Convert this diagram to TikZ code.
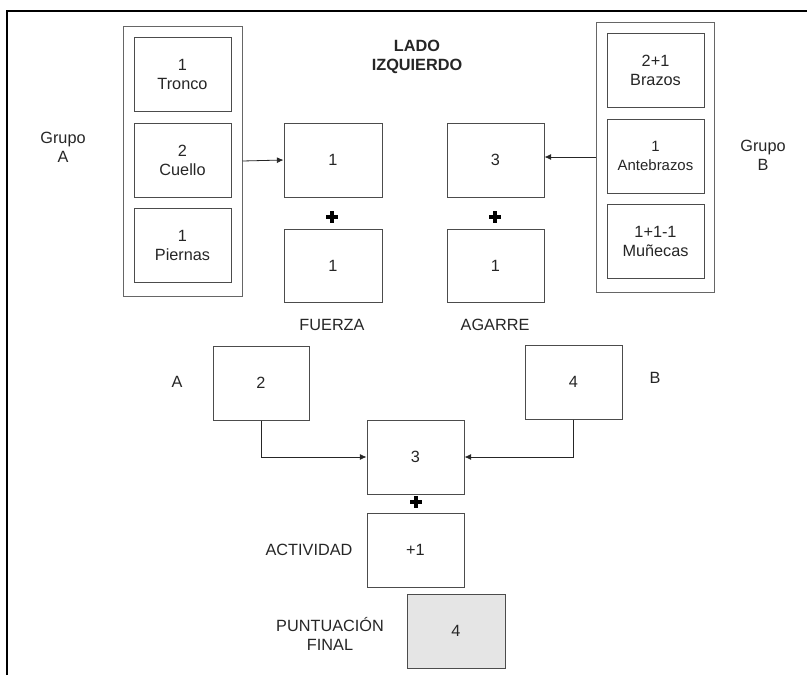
\documentclass[tikz,border=0pt]{standalone}
\usepackage{fontspec}
\setmainfont{Liberation Sans}
\usetikzlibrary{arrows.meta}
\begin{document}
\begin{tikzpicture}[x=0.75pt,y=-0.75pt,
  font=\fontsize{12.2}{14.25}\selectfont,
  box/.style={draw=black!70,line width=0.75pt,fill=white,inner sep=0pt,
    minimum width=97*0.75pt,minimum height=74*0.75pt,align=center,text=black!85},
  group/.style={draw=black!60,line width=0.75pt,inner sep=0pt,
    minimum width=119*0.75pt,minimum height=270*0.75pt},
  lbl/.style={align=center,text=black!85,inner sep=0pt},
  conn/.style={draw=black!85,line width=0.6pt,-{Latex[length=5pt,width=4.5pt]}},
  plussign/.style={line width=3pt,black}
]
\useasboundingbox (0,0) rectangle (807,675);
% outer frame
\draw[line width=1.5pt] (7,675) -- (7,10.5) -- (807,10.5);

% title
\node[lbl,font=\fontsize{12.2}{14.25}\selectfont\bfseries] (title) at (417,56.5) {LADO\\IZQUIERDO};

% group A
\node[group] (gA) at (182.5,161) {};
\node[box] (tronco) at (182.5,74) {1\\Tronco};
\node[box] (cuello) at (182.5,160) {2\\Cuello};
\node[box] (piernas) at (182.5,245) {1\\Piernas};
\node[lbl] (lgA) at (63,147.5) {Grupo\\A};

% group B
\node[group,minimum width=118*0.75pt] (gB) at (655,157) {};
\node[box] (brazos) at (655.5,70) {2+1\\Brazos};
\node[box,font=\fontsize{11.2}{14.25}\selectfont] (antebrazos) at (655.5,156) {1\\Antebrazos};
\node[box] (munecas) at (655.5,241) {1+1-1\\Muñecas};
\node[lbl] (lgB) at (763,155) {Grupo\\B};

% fuerza / agarre
\node[box,minimum width=98*0.75pt] (f1) at (333,160) {1};
\node[box,minimum width=98*0.75pt,minimum height=73*0.75pt] (f2) at (333,265.5) {1};
\node[box] (g1) at (495.5,160) {3};
\node[box,minimum height=73*0.75pt] (g2) at (495.5,265.5) {1};
\node[lbl] (lf) at (332,325) {FUERZA};
\node[lbl] (lg) at (495,325) {AGARRE};

\draw[plussign] (326,217) -- (338,217) (332,211) -- (332,223);
\draw[plussign] (489,217) -- (501,217) (495,211) -- (495,223);

% arrows from groups
\draw[conn] (gA.east) -- (f1.west);
\draw[conn] (gB.west) -- (gB.west -| g1.east);

% second level
\node[box,minimum width=96*0.75pt] (b2) at (261,383) {2};
\node[box] (b4) at (573.5,382) {4};
\node[box] (b3) at (415.5,457) {3};
\node[lbl] (la) at (177,382) {A};
\node[lbl] (lb) at (655,378) {B};
\draw[conn] (b2.south) |- (b3.west);
\draw[conn] (b4.south) |- (b3.east);

\draw[plussign] (410,502) -- (422,502) (416,496) -- (416,508);

% activity
\node[box] (act) at (415.5,550) {+1};
\node[lbl] (lact) at (309,550) {ACTIVIDAD};

% final
\node[box,fill=black!10,minimum width=98*0.75pt] (final) at (456,631) {4};
\node[lbl] (lfinal) at (330,634) {PUNTUACIÓN\\FINAL};
\end{tikzpicture}
\end{document}
